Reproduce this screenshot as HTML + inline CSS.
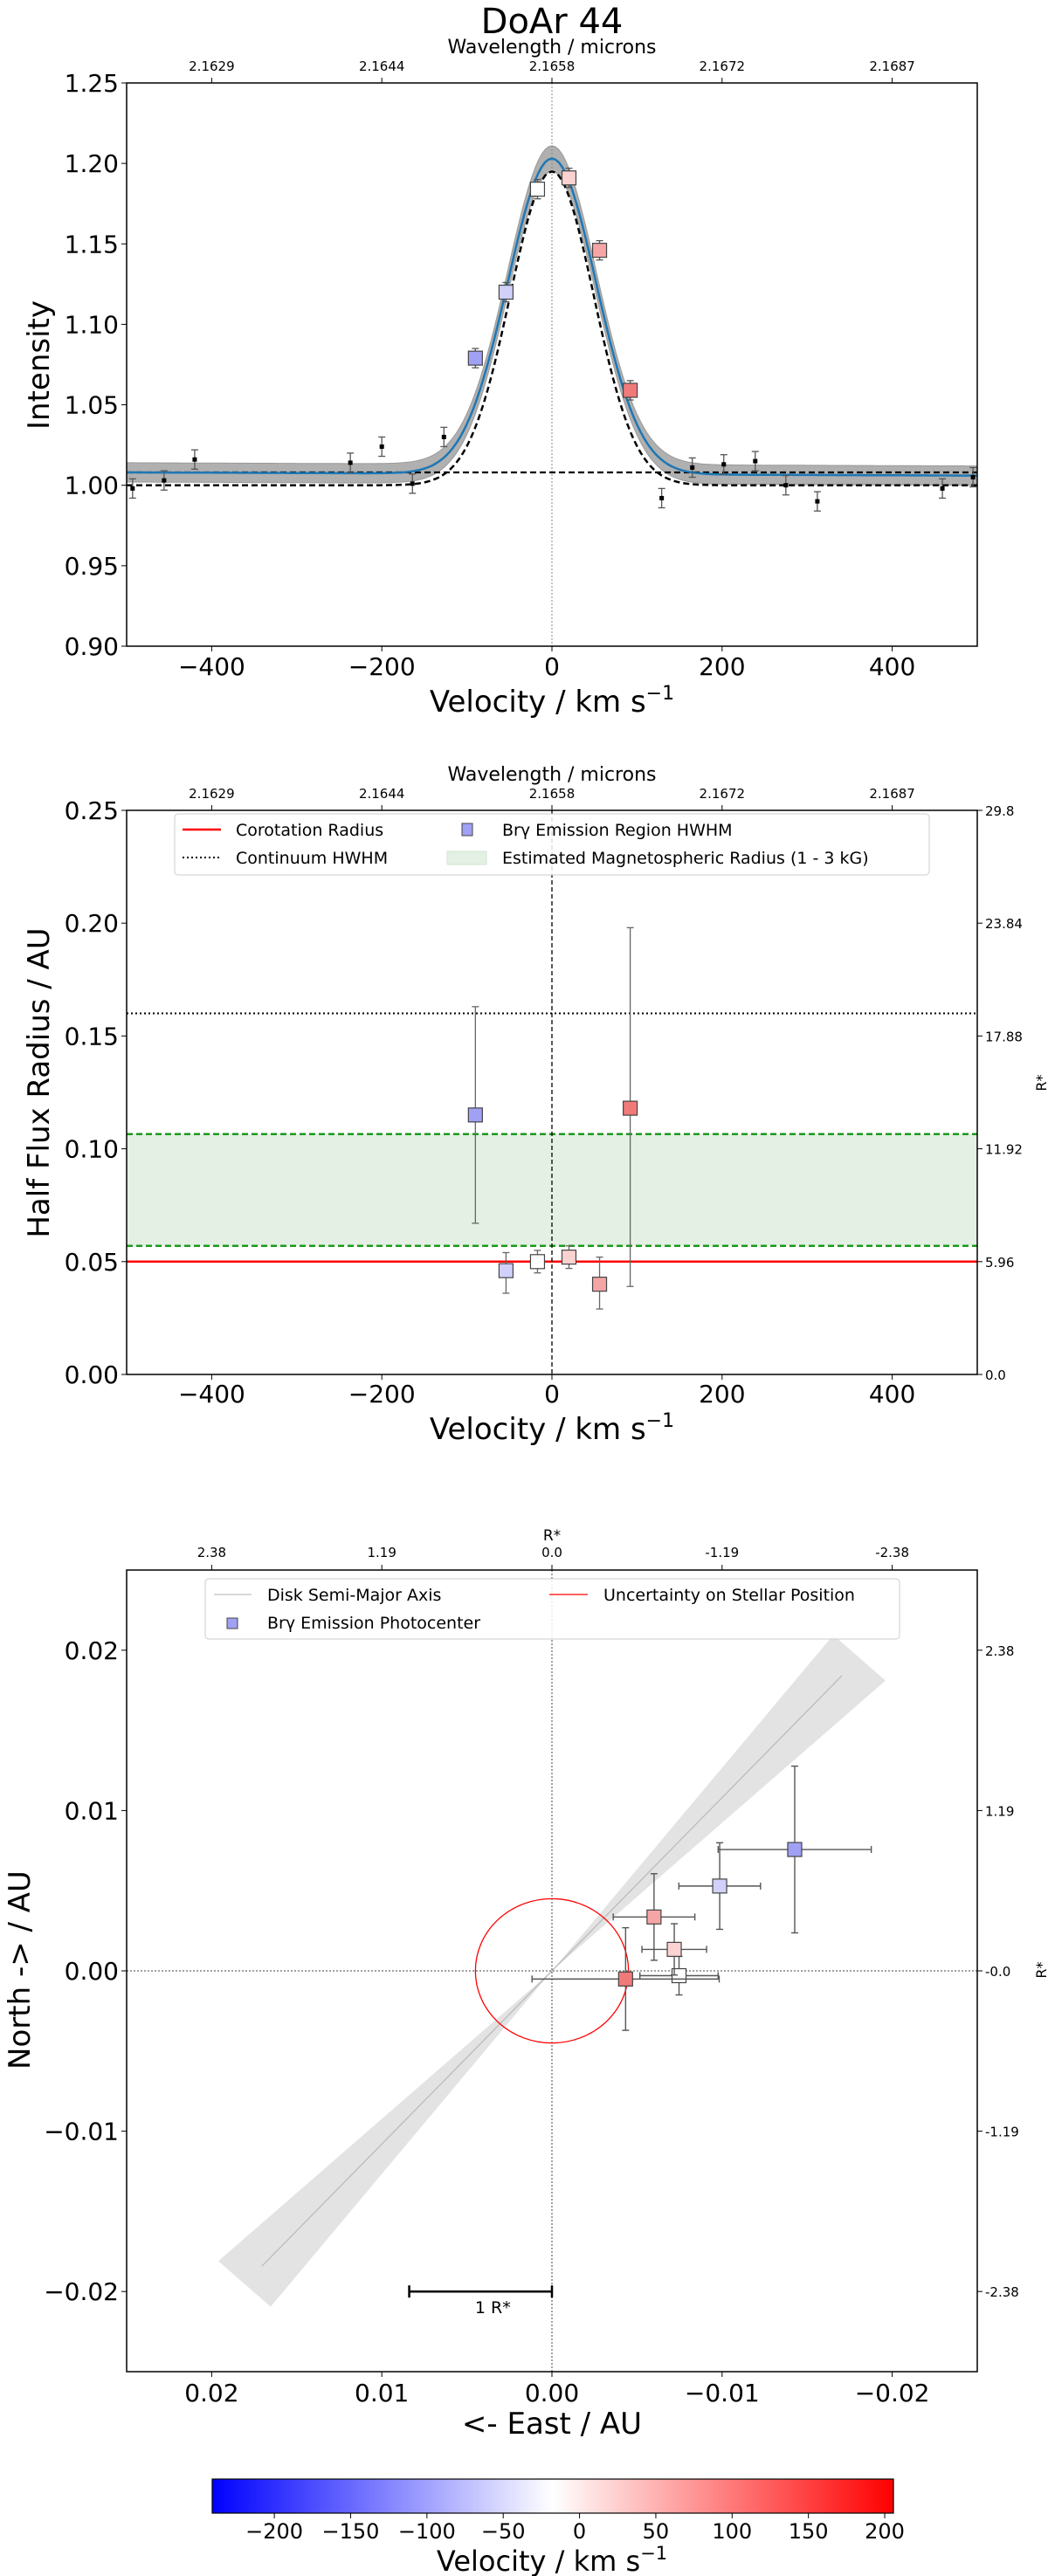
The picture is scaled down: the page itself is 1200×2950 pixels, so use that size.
<!DOCTYPE html>
<html><head><meta charset="utf-8"><style>
html,body{margin:0;padding:0;background:#fff;}
svg{display:block;font-family:"DejaVu Sans","Liberation Sans",sans-serif;}
</style></head><body>
<svg id="fig" width="1200" height="2950" viewBox="0 0 1200 2950" xmlns="http://www.w3.org/2000/svg">
<defs>
<linearGradient id="bwr" x1="0" x2="1" y1="0" y2="0">
<stop offset="0" stop-color="#0000ff"/><stop offset="0.5" stop-color="#ffffff"/><stop offset="1" stop-color="#ff0000"/>
</linearGradient>
</defs>
</svg>
<script>
// ---------- data ----------
// Panel 1: spectrum
const specVel = [-493,-456,-420,-237,-200,-164,-127,129,165,202,239,275,312,459,495];
const specInt = [0.998,1.003,1.016,1.014,1.024,1.001,1.030,0.992,1.011,1.013,1.015,1.000,0.990,0.998,1.005];
const specErr = [0.006,0.006,0.006,0.006,0.006,0.006,0.006,0.006,0.006,0.006,0.006,0.006,0.006,0.006,0.006];
const chanVel = [-90,-54,-17,20,56,92];
const chanInt = [1.079,1.120,1.184,1.191,1.146,1.059];
const chanErr = [0.006,0.006,0.006,0.006,0.006,0.006];
const chanColor = ['#a0a0f5','#d0d0fa','#ffffff','#fad2d2','#f5a5a5','#f07a7a'];
// Panel 2: radii
const radVal = [0.115,0.046,0.050,0.052,0.040,0.118];
const radLo = [0.067,0.036,0.045,0.047,0.029,0.039];
const radHi = [0.163,0.054,0.055,0.057,0.052,0.198];
const corotation = [0.050];
const continuumHWHM = [0.160];
const magnetoRange = [0.057,0.1065];
// Panel 3: photocentres
const pcX = [-0.01427,-0.00986,-0.00747,-0.00719,-0.0060,-0.00433];
const pcY = [0.00757,0.00529,-0.0003,0.00134,0.00336,-0.00051];
const pcXerr = [0.0045,0.0024,0.0023,0.0019,0.0024,0.0055];
const pcYerr = [0.0052,0.0027,0.0012,0.0016,0.0027,0.0032];
const pcColor = ['#a0a0f5','#d0d0fa','#ffffff','#fad2d2','#f5a5a5','#f07a7a'];
const diskEnd = [-0.01705,0.01842];
const stellarUnc = [0.0045];
const scaleBarAU = [0.00839];
// ticks
const velTicks = [-400,-200,0,200,400];
const wlLabels = ['2.1629','2.1644','2.1658','2.1672','2.1687'];
const intTicks = [0.90,0.95,1.00,1.05,1.10,1.15,1.20,1.25];
const radTicks = [0,0.05,0.10,0.15,0.20,0.25];
const rstarLabels = ['0.0','5.96','11.92','17.88','23.84','29.8'];
const auTicks = [0.02,0.01,0,-0.01,-0.02];
const auTickLabels = ['0.02','0.01','0.00','\u22120.01','\u22120.02'];
const auRLabels = ['2.38','1.19','0.0','-1.19','-2.38'];
const auRightLabels = ['2.38','1.19','-0.0','-1.19','-2.38'];
const cbTicks = [-200,-150,-100,-50,0,50,100,150,200];
const cbRange = [-240.7,205.7];

// ---------- helpers ----------
const NS='http://www.w3.org/2000/svg';
const svg=document.getElementById('fig');
function el(tag,attrs,parent,txt){const e=document.createElementNS(NS,tag);for(const k in attrs)e.setAttribute(k,attrs[k]);if(txt!==undefined)e.textContent=txt;(parent||svg).appendChild(e);return e;}
function fmtMinus(v,d){const s=Math.abs(v).toFixed(d);return (v<0?'\u2212':'')+s;}
function linmap(d0,d1,p0,p1){return v=>p0+(v-d0)/(d1-d0)*(p1-p0);}

const L=145,R=1119;
// ===== Panel 1 =====
(function(){
 const T=95,B=740;
 const g=el('g',{});
 const x=linmap(-500,500,L,R), y=linmap(0.9,1.25,B,T);
 const clip=el('clipPath',{id:'c1'},g);el('rect',{x:L,y:T,width:R-L,height:B-T},clip);
 const pg=el('g',{'clip-path':'url(#c1)'},g);
 const blue=v=>1.007-0.000002*v+0.196*Math.exp(-v*v/(2*52*52));
 const dash=v=>1.000+0.195*Math.exp(-v*v/(2*49*49));
 let up='',lo='',bl='',dl='';
 for(let v=-500;v<=500;v+=4){const b=blue(v);const w=0.006+0.002*Math.exp(-v*v/(2*60*60));
  up+=(up?'L':'M')+x(v).toFixed(1)+','+y(b+w).toFixed(1);
  bl+=(bl?'L':'M')+x(v).toFixed(1)+','+y(b).toFixed(1);
  dl+=(dl?'L':'M')+x(v).toFixed(1)+','+y(dash(v)).toFixed(1);}
 for(let v=500;v>=-500;v-=4){const b=blue(v);const w=0.006+0.002*Math.exp(-v*v/(2*60*60));lo+='L'+x(v).toFixed(1)+','+y(b-w).toFixed(1);}
 const band=el('path',{d:up+lo+'Z',fill:'#b0b0b0',stroke:'#999','stroke-width':1},pg);
 el('line',{x1:x(0),x2:x(0),y1:T,y2:B,stroke:'#888','stroke-width':1,'stroke-dasharray':'2,2'},pg);
 const hb=el('line',{x1:L,x2:R,y1:y(1.008),y2:y(1.008),stroke:'#000','stroke-width':2.2,'stroke-dasharray':'7,4'},pg);
 const dp=el('path',{d:dl,fill:'none',stroke:'#000','stroke-width':2.5,'stroke-dasharray':'7,4'},pg);
 const bp=el('path',{d:bl,fill:'none',stroke:'#1f77b4','stroke-width':2.5},pg);
 specVel.forEach((v,i)=>{const cx=x(v),y1=y(specInt[i]+specErr[i]),y2=y(specInt[i]-specErr[i]);
  el('line',{x1:cx,x2:cx,y1:y1,y2:y2,stroke:'#555','stroke-width':1.3},pg);
  el('line',{x1:cx-4,x2:cx+4,y1:y1,y2:y1,stroke:'#555','stroke-width':1.3},pg);
  el('line',{x1:cx-4,x2:cx+4,y1:y2,y2:y2,stroke:'#555','stroke-width':1.3},pg);
  const r=el('rect',{x:cx-2.5,y:y(specInt[i])-2.5,width:5,height:5,fill:'#000'},pg);
  });
 chanVel.forEach((v,i)=>{const cx=x(v),cy=y(chanInt[i]),y1=y(chanInt[i]+chanErr[i]),y2=y(chanInt[i]-chanErr[i]);
  el('line',{x1:cx,x2:cx,y1:y1,y2:y2,stroke:'#555','stroke-width':1.3},pg);
  el('line',{x1:cx-4,x2:cx+4,y1:y1,y2:y1,stroke:'#555','stroke-width':1.3},pg);
  el('line',{x1:cx-4,x2:cx+4,y1:y2,y2:y2,stroke:'#555','stroke-width':1.3},pg);
  const r=el('rect',{x:cx-8,y:cy-8,width:16,height:16,fill:chanColor[i],stroke:'#444','stroke-width':1.2},pg);
  });
 el('rect',{x:L,y:T,width:R-L,height:B-T,fill:'none',stroke:'#000','stroke-width':1.5},g);
 velTicks.forEach((v,i)=>{const tx=x(v);
  el('line',{x1:tx,x2:tx,y1:B,y2:B+6,stroke:'#000'},g);
  el('text',{x:tx,y:773,'font-size':28,'text-anchor':'middle'},g,fmtMinus(v,0));
  el('line',{x1:tx,x2:tx,y1:T,y2:T-6,stroke:'#000'},g);
  el('text',{x:tx,y:81,'font-size':15,'text-anchor':'middle'},g,wlLabels[i]);});
 intTicks.forEach(v=>{const ty=y(v);el('line',{x1:L,x2:L-6,y1:ty,y2:ty,stroke:'#000'},g);
  el('text',{x:L-9,y:ty+10,'font-size':28,'text-anchor':'end'},g,v.toFixed(2));});
 const t=el('text',{x:632,y:38,'font-size':40,'text-anchor':'middle'},g,'DoAr 44');
 el('text',{x:632,y:61,'font-size':22,'text-anchor':'middle'},g,'Wavelength / microns');
 const xl=el('text',{x:632,y:815,'font-size':34,'text-anchor':'middle'},g);xl.innerHTML='Velocity / km s<tspan dy="-14" font-size="22">\u22121</tspan>';
 el('text',{x:0,y:0,'font-size':34,'text-anchor':'middle',transform:'translate(56,418) rotate(-90)'},g,'Intensity');
})();

// ===== Panel 2 =====
(function(){
 const T=928,B=1574;
 const g=el('g',{});
 const x=linmap(-500,500,L,R), y=linmap(0,0.25,B,T);
 const band=el('rect',{x:L,y:y(magnetoRange[1]),width:R-L,height:y(magnetoRange[0])-y(magnetoRange[1]),fill:'#e3f0e3'},g);
 magnetoRange.forEach(v=>el('line',{x1:L,x2:R,y1:y(v),y2:y(v),stroke:'#1a9a1a','stroke-width':2.5,'stroke-dasharray':'7,4'},g));
 el('line',{x1:L,x2:R,y1:y(continuumHWHM[0]),y2:y(continuumHWHM[0]),stroke:'#000','stroke-width':2,'stroke-dasharray':'2,3'},g);
 el('line',{x1:L,x2:R,y1:y(corotation[0]),y2:y(corotation[0]),stroke:'#ff0000','stroke-width':2.5},g);
 el('line',{x1:x(0),x2:x(0),y1:T,y2:B,stroke:'#000','stroke-width':1.3,'stroke-dasharray':'5,3'},g);
 chanVel.forEach((v,i)=>{const cx=x(v),cy=y(radVal[i]),y1=y(radHi[i]),y2=y(radLo[i]);
  el('line',{x1:cx,x2:cx,y1:y1,y2:y2,stroke:'#666','stroke-width':1.3},g);
  el('line',{x1:cx-4,x2:cx+4,y1:y1,y2:y1,stroke:'#666','stroke-width':1.3},g);
  el('line',{x1:cx-4,x2:cx+4,y1:y2,y2:y2,stroke:'#666','stroke-width':1.3},g);
  const r=el('rect',{x:cx-8,y:cy-8,width:16,height:16,fill:chanColor[i],stroke:'#444','stroke-width':1.2},g);
  });
 el('rect',{x:L,y:T,width:R-L,height:B-T,fill:'none',stroke:'#000','stroke-width':1.5},g);
 velTicks.forEach((v,i)=>{const tx=x(v);
  el('line',{x1:tx,x2:tx,y1:B,y2:B+6,stroke:'#000'},g);
  el('text',{x:tx,y:1606,'font-size':28,'text-anchor':'middle'},g,fmtMinus(v,0));
  el('line',{x1:tx,x2:tx,y1:T,y2:T-6,stroke:'#000'},g);
  el('text',{x:tx,y:914,'font-size':15,'text-anchor':'middle'},g,wlLabels[i]);});
 radTicks.forEach((v,i)=>{const ty=y(v);el('line',{x1:L,x2:L-6,y1:ty,y2:ty,stroke:'#000'},g);
  el('text',{x:L-9,y:ty+10,'font-size':28,'text-anchor':'end'},g,v.toFixed(2));
  el('line',{x1:R,x2:R+6,y1:ty,y2:ty,stroke:'#000'},g);
  el('text',{x:R+9,y:ty+6,'font-size':15},g,rstarLabels[i]);});
 el('text',{x:632,y:894,'font-size':22,'text-anchor':'middle'},g,'Wavelength / microns');
 const xl=el('text',{x:632,y:1648,'font-size':34,'text-anchor':'middle'},g);xl.innerHTML='Velocity / km s<tspan dy="-14" font-size="22">\u22121</tspan>';
 el('text',{x:0,y:0,'font-size':34,'text-anchor':'middle',transform:'translate(56,1240) rotate(-90)'},g,'Half Flux Radius / AU');
 el('text',{x:0,y:0,'font-size':16,'text-anchor':'middle',transform:'translate(1198,1240) rotate(-90)'},g,'R*');
 const lg=el('g',{},g);
 el('rect',{x:200,y:932,width:864,height:70,rx:4,fill:'#fff','fill-opacity':0.85,stroke:'#ccc'},lg);
 el('line',{x1:209,x2:253,y1:950,y2:950,stroke:'#f00','stroke-width':2.5},lg);
 el('text',{x:270,y:957,'font-size':19},lg,'Corotation Radius');
 el('line',{x1:209,x2:253,y1:982,y2:982,stroke:'#000','stroke-width':2,'stroke-dasharray':'2,3'},lg);
 el('text',{x:270,y:989,'font-size':19},lg,'Continuum HWHM');
 el('rect',{x:529,y:943,width:12,height:14,fill:'#a0a0f5',stroke:'#444'},lg);
 el('text',{x:575,y:957,'font-size':19},lg,'Br\u03b3 Emission Region HWHM');
 el('rect',{x:512,y:975,width:45,height:15,fill:'#e3f0e3',stroke:'#d0e6d0'},lg);
 el('text',{x:575,y:989,'font-size':19},lg,'Estimated Magnetospheric Radius (1 - 3 kG)');
})();

// ===== Panel 3 =====
(function(){
 const T=1798,B=2716;
 const g=el('g',{});
 const x=linmap(0.025,-0.025,L,R), y=linmap(-0.025,0.025,B,T);
 el('line',{x1:x(0),x2:x(0),y1:T,y2:B,stroke:'#444','stroke-width':1,'stroke-dasharray':'2,2'},g);
 el('line',{x1:L,x2:R,y1:y(0),y2:y(0),stroke:'#444','stroke-width':1,'stroke-dasharray':'2,2'},g);
 // disk wedge (two triangles meeting at the star)
 const ex=diskEnd[0],ey=diskEnd[1],len=Math.hypot(ex,ey),ang=Math.atan2(ey,ex),hw=4.5*Math.PI/180;
 const pt=(r,a)=>x(r*Math.cos(a)).toFixed(1)+','+y(r*Math.sin(a)).toFixed(1);
 const L2=len*1.06/Math.cos(hw);
 const o=x(0).toFixed(1)+','+y(0).toFixed(1);
 const w=el('path',{d:'M'+o+'L'+pt(L2,ang+hw)+'L'+pt(L2,ang-hw)+'Z M'+o+'L'+pt(L2,ang+Math.PI+hw)+'L'+pt(L2,ang+Math.PI-hw)+'Z',fill:'#e3e3e3',stroke:'none'},g);
 
 const dl=el('line',{x1:x(-ex),y1:y(-ey),x2:x(ex),y2:y(ey),stroke:'#bbb','stroke-width':1.3},g);
 const c=el('ellipse',{cx:x(0),cy:y(0),rx:x(-stellarUnc[0])-x(0),ry:y(0)-y(stellarUnc[0]),fill:'none',stroke:'#f00','stroke-width':1.3},g);
 
 pcX.forEach((px,i)=>{const cx=x(px),cy=y(pcY[i]);const x1=x(px+pcXerr[i]),x2=x(px-pcXerr[i]),y1=y(pcY[i]+pcYerr[i]),y2=y(pcY[i]-pcYerr[i]);
  const s={stroke:'#555','stroke-width':1.4};
  el('line',Object.assign({x1:x1,x2:x2,y1:cy,y2:cy},s),g);
  el('line',Object.assign({x1:x1,x2:x1,y1:cy-4,y2:cy+4},s),g);
  el('line',Object.assign({x1:x2,x2:x2,y1:cy-4,y2:cy+4},s),g);
  el('line',Object.assign({x1:cx,x2:cx,y1:y1,y2:y2},s),g);
  el('line',Object.assign({x1:cx-4,x2:cx+4,y1:y1,y2:y1},s),g);
  el('line',Object.assign({x1:cx-4,x2:cx+4,y1:y2,y2:y2},s),g);
  const r=el('rect',{x:cx-8,y:cy-8,width:16,height:16,fill:pcColor[i],stroke:'#444','stroke-width':1.2},g);
  });
 const sb=el('g',{},g);
 const sx1=x(scaleBarAU[0]),sx2=x(0),sy=y(-0.02);
 el('line',{x1:sx1,x2:sx2,y1:sy,y2:sy,stroke:'#000','stroke-width':2.5},sb);
 el('line',{x1:sx1,x2:sx1,y1:sy-7,y2:sy+7,stroke:'#000','stroke-width':2.5},sb);
 el('line',{x1:sx2,x2:sx2,y1:sy-7,y2:sy+7,stroke:'#000','stroke-width':2.5},sb);
 el('text',{x:(sx1+sx2)/2+14,y:sy+25,'font-size':19,'text-anchor':'middle'},sb,'1 R*');
 el('rect',{x:L,y:T,width:R-L,height:B-T,fill:'none',stroke:'#000','stroke-width':1.5},g);
 auTicks.forEach((v,i)=>{const tx=x(v),ty=y(v);
  el('line',{x1:tx,x2:tx,y1:B,y2:B+6,stroke:'#000'},g);
  el('text',{x:tx,y:2750,'font-size':28,'text-anchor':'middle'},g,auTickLabels[i]);
  el('line',{x1:tx,x2:tx,y1:T,y2:T-6,stroke:'#000'},g);
  el('text',{x:tx,y:1783,'font-size':15,'text-anchor':'middle'},g,auRLabels[i]);
  el('line',{x1:L,x2:L-6,y1:ty,y2:ty,stroke:'#000'},g);
  el('text',{x:L-9,y:ty+10,'font-size':28,'text-anchor':'end'},g,auTickLabels[i]);
  el('line',{x1:R,x2:R+6,y1:ty,y2:ty,stroke:'#000'},g);
  el('text',{x:R+9,y:ty+6,'font-size':15},g,auRightLabels[i]);});
 el('text',{x:x(0),y:1764,'font-size':17,'text-anchor':'middle'},g,'R*');
 el('text',{x:632,y:2787,'font-size':34,'text-anchor':'middle'},g,'<- East  / AU');
 el('text',{x:0,y:0,'font-size':34,'text-anchor':'middle',transform:'translate(34,2256) rotate(-90)'},g,'North -> / AU');
 el('text',{x:0,y:0,'font-size':16,'text-anchor':'middle',transform:'translate(1198,2256) rotate(-90)'},g,'R*');
 const lg=el('g',{},g);
 el('rect',{x:235,y:1808,width:795,height:69,rx:4,fill:'#fff','fill-opacity':0.85,stroke:'#ccc'},lg);
 el('line',{x1:245,x2:288,y1:1826,y2:1826,stroke:'#ccc','stroke-width':1.5},lg);
 el('text',{x:306,y:1833,'font-size':19},lg,'Disk Semi-Major Axis');
 el('line',{x1:629,x2:673,y1:1826,y2:1826,stroke:'#f00','stroke-width':1.3},lg);
 el('text',{x:691,y:1833,'font-size':19},lg,'Uncertainty on Stellar Position');
 el('rect',{x:260,y:1853,width:12,height:12,fill:'#a0a0f5',stroke:'#444'},lg);
 el('text',{x:306,y:1865,'font-size':19},lg,'Br\u03b3 Emission Photocenter');
})();

// ===== Colorbar =====
(function(){
 const g=el('g',{});
 const X0=243,X1=1023,Y0=2839,Y1=2878;
 el('rect',{x:X0,y:Y0,width:X1-X0,height:Y1-Y0,fill:'url(#bwr)',stroke:'#000','stroke-width':1.2},g);
 const cx=linmap(cbRange[0],cbRange[1],X0,X1);
 cbTicks.forEach(v=>{const tx=cx(v);el('line',{x1:tx,x2:tx,y1:Y1,y2:Y1+6,stroke:'#000'},g);
  el('text',{x:tx,y:2907,'font-size':24,'text-anchor':'middle'},g,fmtMinus(v,0));});
 const xl=el('text',{x:632,y:2944,'font-size':32,'text-anchor':'middle'},g);xl.innerHTML='Velocity / km s<tspan dy="-13" font-size="21">\u22121</tspan>';
})();
</script>
</body></html>
